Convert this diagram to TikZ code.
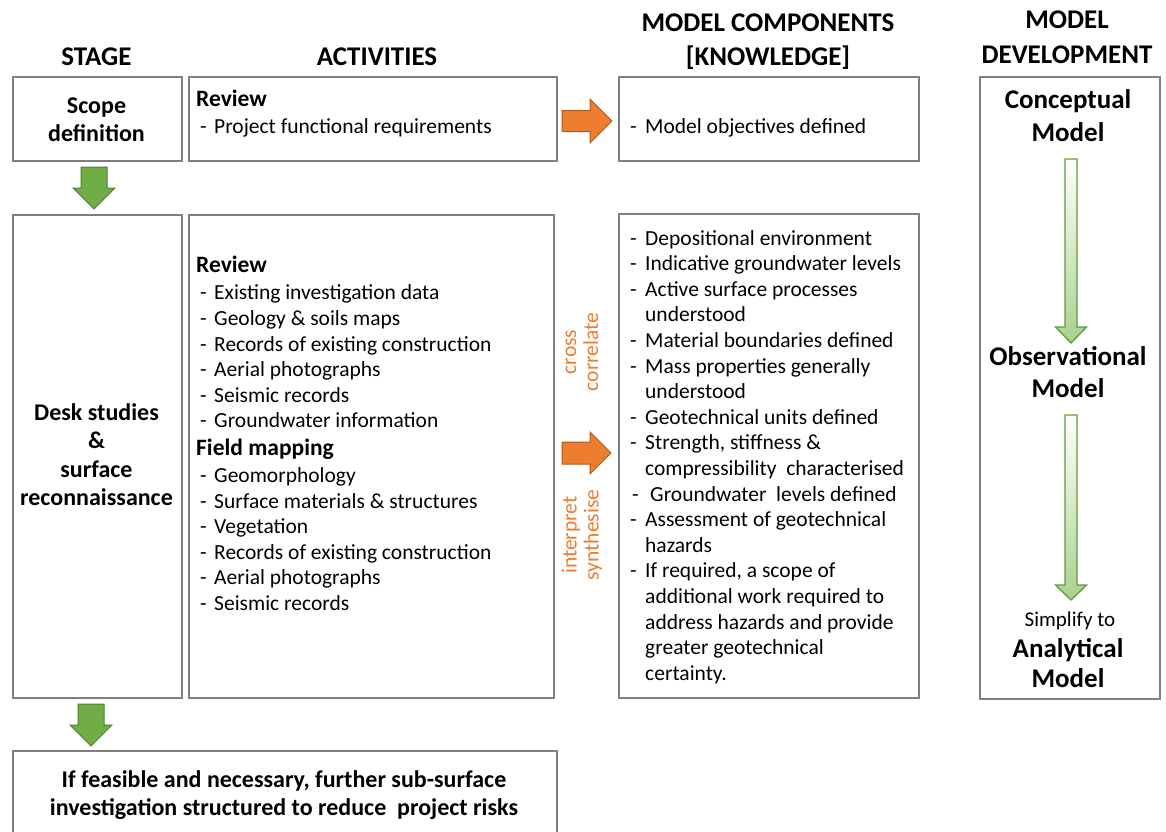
\documentclass[tikz,border=0pt]{standalone}
\usepackage{fontspec}
\setmainfont{Carlito}
\definecolor{boxgray}{HTML}{808080}
\definecolor{gfill}{HTML}{70AD47}
\definecolor{gdraw}{HTML}{507E32}
\definecolor{ofill}{HTML}{ED7D31}
\definecolor{odraw}{HTML}{AE5A21}
\definecolor{otext}{HTML}{ED7D31}
\definecolor{devgreen}{HTML}{A9D18E}
\definecolor{devdraw}{HTML}{5E9C3A}
\newcommand\itemline[5]{\node[txt] (#1) at (#3,#4) {#5};\node[txt] (#1-d) at (#2,#4) {-};}
\newcommand\contline[4]{\node[txt] (#1) at (#2,#3) {#4};}
\newcommand\vblock[7]{\draw[#7] (#1-#4,#2) -- (#1+#4,#2) -- (#1+#4,#3-#6) -- (#1+#5,#3-#6) -- (#1,#3) -- (#1-#5,#3-#6) -- (#1-#4,#3-#6) -- cycle;}
\newcommand\hblock[7]{\draw[#7] (#2,#1-#4) -- (#3-#6,#1-#4) -- (#3-#6,#1-#5) -- (#3,#1) -- (#3-#6,#1+#5) -- (#3-#6,#1+#4) -- (#2,#1+#4) -- cycle;}
\begin{document}
\begin{tikzpicture}[x=1pt,y=-1pt,
  box/.style={draw=boxgray, line width=1.6pt, anchor=north west, inner sep=0pt},
  txt/.style={anchor=base west, inner sep=0pt, font=\fontsize{21.5}{25.6}\selectfont},
  bhead/.style={anchor=base west, inner sep=0pt, font=\fontsize{23.5}{28}\selectfont\bfseries},
  stagetxt/.style={anchor=base, inner sep=0pt, font=\fontsize{24}{28}\selectfont\bfseries},
  coltitle/.style={anchor=base, inner sep=0pt, font=\fontsize{27}{30}\selectfont\bfseries},
  devtxt/.style={anchor=base, inner sep=0pt, font=\fontsize{27}{32}\selectfont\bfseries},
  sidetxt/.style={inner sep=0pt, rotate=90, align=center, text=otext, font=\fontsize{21.5}{22}\selectfont},
  garrow/.style={fill=gfill, draw=gdraw, line width=1pt, line join=miter},
  oarrow/.style={fill=ofill, draw=odraw, line width=1pt, line join=miter},
  darrow/.style={draw=devdraw, line width=1.3pt, top color=white, bottom color=devgreen, line join=miter}]
\useasboundingbox (0,0) rectangle (1166,831);
\clip (0,0) rectangle (1166,831);
\fill[white] (0,0) rectangle (1166,831);

% column titles
\node[coltitle] (hstage) at (96.5,65) {STAGE};
\node[coltitle] (hact) at (377,65) {ACTIVITIES};
\node[coltitle] (hmc1) at (768,31) {MODEL COMPONENTS};
\node[coltitle] (hmc2) at (768,65) {[KNOWLEDGE]};
\node[coltitle] (hmd1) at (1067,28) {MODEL};
\node[coltitle] (hmd2) at (1067,63) {DEVELOPMENT};

% boxes
\node[box, minimum width=169, minimum height=84] (scope) at (12,76) {};
\node[box, minimum width=368, minimum height=84] (rev) at (188,76) {};
\node[box, minimum width=300, minimum height=84] (obj) at (618,76) {};
\node[box, minimum width=180, minimum height=622] (dev) at (979,76) {};
\node[box, minimum width=169, minimum height=483] (desk) at (12,214) {};
\node[box, minimum width=365, minimum height=483] (act) at (188,214) {};
\node[box, minimum width=300, minimum height=484] (comp) at (618,213) {};
\node[box, minimum width=544, minimum height=120] (further) at (12,750) {};

% stage texts
\node[stagetxt] (s1a) at (96.5,113) {Scope};
\node[stagetxt] (s1b) at (96.5,141) {definition};
\node[stagetxt] (s2a) at (96.5,420) {Desk studies};
\node[stagetxt] (s2b) at (96.5,448) {\&};
\node[stagetxt] (s2c) at (96.5,477) {surface};
\node[stagetxt] (s2d) at (96.5,505) {reconnaissance};
\node[stagetxt] (s3a) at (284,787) {If feasible and necessary, further sub-surface};
\node[stagetxt] (s3b) at (284,815) {investigation structured to reduce\ \ project risks};

% activities
\node[bhead] (r1) at (196,106) {Review};
\itemline{a1}{200}{214}{133}{Project functional requirements}
\node[bhead] (r2) at (196,272) {Review};
\itemline{a2}{200}{214}{299}{Existing investigation data}
\itemline{a3}{200}{214}{325}{Geology \& soils maps}
\itemline{a4}{200}{214}{351}{Records of existing construction}
\itemline{a5}{200}{214}{376}{Aerial photographs}
\itemline{a6}{200}{214}{402}{Seismic records}
\itemline{a7}{200}{214}{427}{Groundwater information}
\node[bhead] (fm) at (196,455) {Field mapping};
\itemline{a8}{200}{214}{482}{Geomorphology}
\itemline{a9}{200}{214}{508}{Surface materials \& structures}
\itemline{a10}{200}{214}{533}{Vegetation}
\itemline{a11}{200}{214}{559}{Records of existing construction}
\itemline{a12}{200}{214}{584}{Aerial photographs}
\itemline{a13}{200}{214}{610}{Seismic records}

% model components
\itemline{m0}{630}{645}{133}{Model objectives defined}
\itemline{c0}{630}{645}{245}{Depositional environment}
\itemline{c1}{630}{645}{270.6}{Indicative groundwater levels}
\itemline{c2}{630}{645}{296.2}{Active surface processes}
\contline{c3}{645}{321.8}{understood}
\itemline{c4}{630}{645}{347.4}{Material boundaries defined}
\itemline{c5}{630}{645}{373}{Mass properties generally}
\contline{c6}{645}{398.6}{understood}
\itemline{c7}{630}{645}{424.2}{Geotechnical units defined}
\itemline{c8}{630}{645}{449.8}{Strength, stiffness \&}
\contline{c9}{645}{475.4}{compressibility\ \ characterised}
\itemline{c10}{632}{650}{501}{Groundwater\ \ levels defined}
\itemline{c11}{630}{645}{526.6}{Assessment of geotechnical}
\contline{c12}{645}{552.2}{hazards}
\itemline{c13}{630}{645}{577.8}{If required, a scope of}
\contline{c14}{645}{603.4}{additional work required to}
\contline{c15}{645}{629}{address hazards and provide}
\contline{c16}{645}{654.6}{greater geotechnical}
\contline{c17}{645}{680.2}{certainty.}

% side labels
\node[sidetxt] (cc) at (582,352) {cross\\correlate};
\node[sidetxt] (is) at (582,535) {interpret\\synthesise};

% model development
\node[devtxt] (d1a) at (1068,108) {Conceptual};
\node[devtxt] (d1b) at (1068,141) {Model};
\node[devtxt] (d2a) at (1068,365) {Observational};
\node[devtxt] (d2b) at (1068,397) {Model};
\node[anchor=base, inner sep=0pt, font=\fontsize{21}{22}\selectfont] (d3a) at (1070,626) {Simplify to};
\node[devtxt] (d3b) at (1068,657) {Analytical};
\node[devtxt] (d3c) at (1068,687) {Model};

% block arrows
\vblock{94}{167}{209}{13}{21}{21}{garrow}
\vblock{91}{704}{746}{13}{21}{21}{garrow}
\hblock{121}{562}{612}{10.5}{22}{22}{oarrow}
\hblock{453}{562}{611}{11}{21}{21}{oarrow}
\vblock{1071}{159}{343}{6}{15.5}{16}{darrow}
\vblock{1071}{415}{600}{6}{15.5}{15}{darrow}
\end{tikzpicture}
\end{document}
